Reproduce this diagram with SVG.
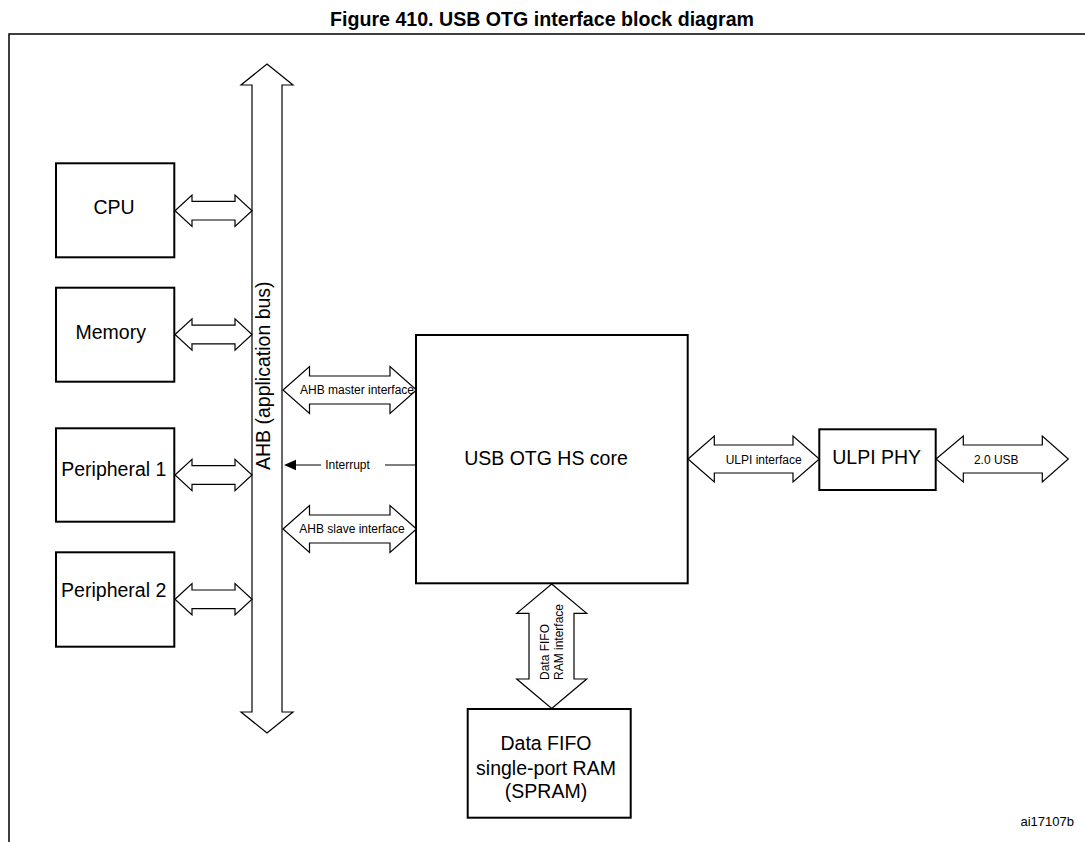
<svg xmlns="http://www.w3.org/2000/svg" width="1085" height="842" viewBox="0 0 1085 842">
<style>
.box{fill:#fff;stroke:#000;stroke-width:2}
.arr{fill:#fff;stroke:#000;stroke-width:1.2;stroke-linejoin:miter}
.t{font-family:"Liberation Sans",Arial,sans-serif;fill:#000}
.big{font-size:19.5px}
.sm{font-size:12px}
</style>
<rect x="0" y="0" width="1085" height="842" fill="#fff"/>
<text class="t" x="542" y="26" text-anchor="middle" font-size="21" font-weight="bold" textLength="424" lengthAdjust="spacingAndGlyphs">Figure 410. USB OTG interface block diagram</text>
<path d="M9,842 L9,34 L1085,34" fill="none" stroke="#000" stroke-width="1.5"/>
<g id="connectors">
<path class="arr" d="M267,64 L293,85 L282,85 L282,712 L293,712 L267,733 L241,712 L252,712 L252,85 L241,85 Z"/>
<path class="arr" d="M175,210.7 L192,195 L192,201.4 L235,201.4 L235,195 L252,210.7 L235,226.4 L235,220 L192,220 L192,226.4 Z"/>
<path class="arr" d="M175,334.5 L192,318.8 L192,325.2 L235,325.2 L235,318.8 L252,334.5 L235,350.2 L235,343.8 L192,343.8 L192,350.2 Z"/>
<path class="arr" d="M175,475 L192,459.3 L192,465.7 L235,465.7 L235,459.3 L252,475 L235,490.7 L235,484.3 L192,484.3 L192,490.7 Z"/>
<path class="arr" d="M175,599.3 L192,583.6 L192,590 L235,590 L235,583.6 L252,599.3 L235,615 L235,608.6 L192,608.6 L192,615 Z"/>
<path class="arr" d="M283,390 L309.5,366.5 L309.5,376 L390,376 L390,366.5 L416.5,390 L390,413.5 L390,404 L309.5,404 L309.5,413.5 Z"/>
<path class="arr" d="M283,529 L309.5,505.5 L309.5,515 L390,515 L390,505.5 L416.5,529 L390,552.5 L390,543 L309.5,543 L309.5,552.5 Z"/>
<path class="arr" d="M688,459 L714.3,436 L714.3,445 L793,445 L793,436 L819.3,459 L793,482 L793,473 L714.3,473 L714.3,482 Z"/>
<path class="arr" d="M936,459 L963.3,436 L963.3,445 L1042.3,445 L1042.3,436 L1068.3,459 L1042.3,482 L1042.3,473 L963.3,473 L963.3,482 Z"/>
<path class="arr" d="M551.7,584 L586.7,613.3 L574,613.3 L574,679 L586.7,679 L551.7,708.5 L516.7,679 L529,679 L529,613.3 L516.7,613.3 Z"/>
<path d="M416,465 L385,465 M321,465 L294,465" fill="none" stroke="#000" stroke-width="1.2"/>
<path d="M284,465 L296,459.7 L296,470.3 Z" fill="#000"/>
<text class="t big" transform="translate(270,470) rotate(-90)">AHB (application bus)</text>
<text class="t sm" x="357" y="394.3" text-anchor="middle">AHB master interface</text>
<text class="t sm" x="352" y="533.3" text-anchor="middle">AHB slave interface</text>
<text class="t sm" x="347.5" y="469.3" text-anchor="middle">Interrupt</text>
<text class="t sm" x="763.7" y="463.5" text-anchor="middle">ULPI interface</text>
<text class="t sm" x="996.3" y="463.5" text-anchor="middle">2.0 USB</text>
<text class="t sm" transform="translate(549,680) rotate(-90)">Data FIFO</text>
<text class="t sm" transform="translate(563,680) rotate(-90)">RAM interface</text>
</g>
<g id="cpu"><rect class="box" x="56" y="163.3" width="118.3" height="94"/><text class="t big" x="114" y="213.7" text-anchor="middle">CPU</text></g>
<g id="memory"><rect class="box" x="56" y="287.7" width="118.3" height="94"/><text class="t big" x="110.7" y="339" text-anchor="middle">Memory</text></g>
<g id="peripheral1"><rect class="box" x="56" y="428.3" width="118.3" height="93.4"/><text class="t big" x="113.8" y="475.5" text-anchor="middle">Peripheral 1</text></g>
<g id="peripheral2"><rect class="box" x="56" y="552.3" width="118.3" height="94.4"/><text class="t big" x="113.7" y="597" text-anchor="middle">Peripheral 2</text></g>
<g id="core"><rect class="box" x="416" y="335" width="271.7" height="248.3"/><text class="t big" x="546" y="465.3" text-anchor="middle">USB OTG HS core</text></g>
<g id="ulpiphy"><rect class="box" x="819.3" y="429.3" width="116.4" height="60.7"/><text class="t big" x="876.7" y="464.3" text-anchor="middle">ULPI PHY</text></g>
<g id="spram"><rect class="box" x="467.7" y="709" width="163" height="108.7"/>
<text class="t big" x="546" y="750" text-anchor="middle">Data FIFO</text>
<text class="t big" x="546" y="775" text-anchor="middle">single-port RAM</text>
<text class="t big" x="546" y="798.3" text-anchor="middle">(SPRAM)</text></g>
<text class="t" x="1074" y="826" text-anchor="end" font-size="13">ai17107b</text>
</svg>
